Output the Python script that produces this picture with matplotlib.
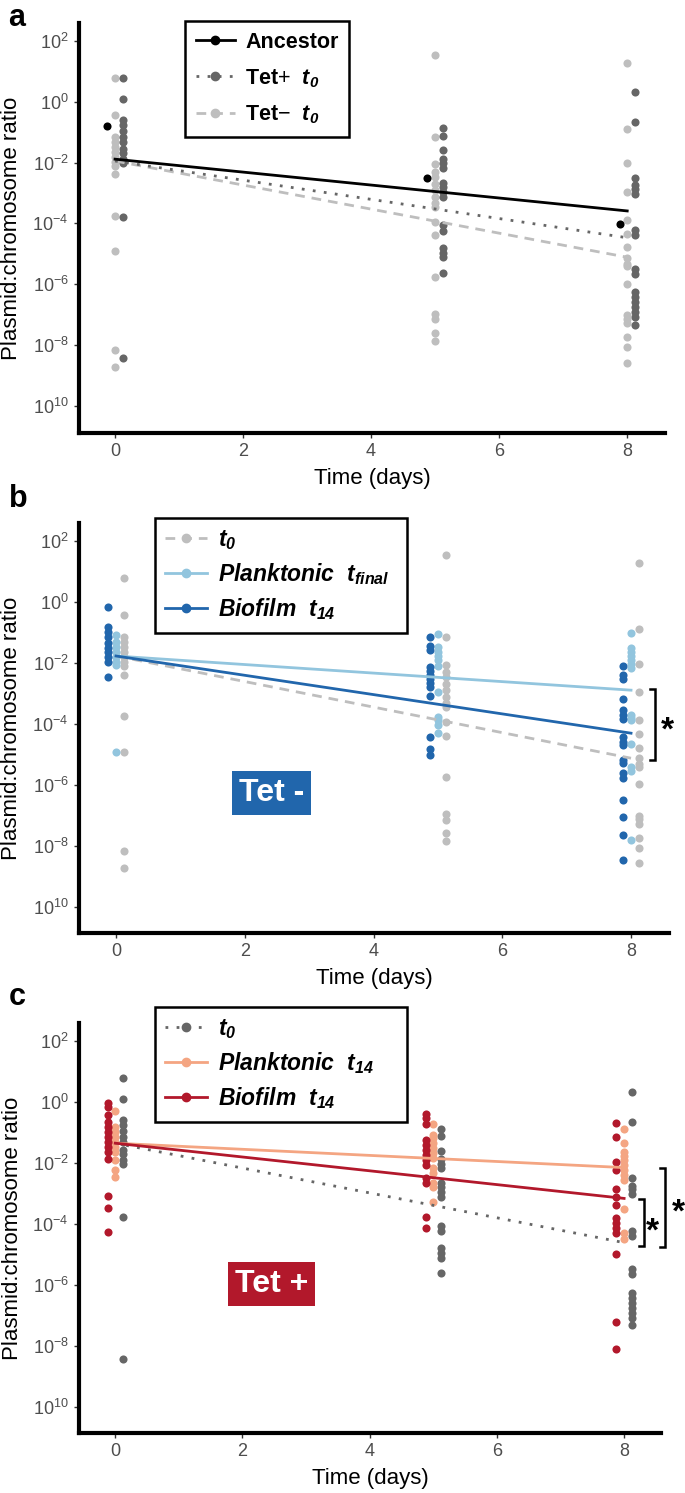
import numpy as np
import matplotlib
matplotlib.use('Agg')
import matplotlib.pyplot as plt
from matplotlib.lines import Line2D
from matplotlib.ticker import NullLocator

plt.rcParams['font.family'] = ['Liberation Sans', 'DejaVu Sans']
plt.rcParams['mathtext.fontset'] = 'custom'
plt.rcParams['mathtext.rm'] = 'Liberation Sans'
plt.rcParams['mathtext.it'] = 'Liberation Sans:italic'
plt.rcParams['mathtext.bf'] = 'Liberation Sans:bold'
plt.rcParams['mathtext.bfit'] = 'Liberation Sans:italic:bold'

# ---- data (log10 plasmid:chromosome ratio) ----
days = [0, 5, 8]
fit_days = [0, 8]

# Tet- t0 (light grey)
tetm_d0 = [0.78, -0.44, -1.16, -1.32, -1.49, -1.65, -1.82, -1.98, -2.12, -2.39, -3.76, -4.92, -8.16, -8.72]
tetm_d5 = [1.53, -1.16, -2.06, -2.31, -2.47, -2.69, -2.91, -3.13, -3.33, -3.46, -3.95, -4.39, -5.76,
           -6.97, -7.15, -7.59, -7.85]
tetm_d8 = [1.28, -0.91, -2.03, -2.97, -3.88, -4.34, -4.78, -5.13, -5.32, -5.41, -5.98, -7.02, -7.13,
           -7.28, -7.74, -8.07, -8.58]

# Tet+ t0 (dark grey)
tetp_d0 = [0.78, 0.08, -0.59, -0.77, -0.96, -1.16, -1.32, -1.57, -1.70, -1.90, -2.03, -3.79, -8.42]
tetp_d5 = [-0.88, -1.13, -1.60, -1.89, -2.03, -2.17, -2.66, -2.80, -2.97, -3.13, -4.06, -4.25, -4.81,
           -4.96, -5.11, -5.62]
tetp_d8 = [0.32, -0.66, -2.51, -2.75, -2.86, -3.02, -4.23, -4.39, -5.49, -5.65, -6.26, -6.42, -6.59,
           -6.75, -6.91, -7.08, -7.32]

# ancestor, one value per day
ancestor = [-0.80, -2.51, -4.03]

# Tet- evolved
bio_m_d0 = [-0.16, -0.82, -0.98, -1.15, -1.36, -1.53, -1.64, -1.80, -1.97, -2.46]
bio_m_d5 = [-1.15, -1.45, -1.58, -2.13, -2.26, -2.40, -2.54, -2.68, -2.81, -3.08, -4.43, -4.84, -5.03]
bio_m_d8 = [-2.10, -2.40, -2.54, -3.19, -3.55, -3.71, -3.86, -4.43, -4.59, -4.70, -5.19, -5.30, -5.63,
            -5.79, -6.50, -7.05, -7.65, -8.47]
plk_m_d0 = [-1.09, -1.31, -1.48, -1.64, -1.80, -1.97, -2.08, -4.92]
plk_m_d5 = [-1.07, -1.48, -1.64, -1.78, -1.91, -2.10, -2.95, -3.79, -3.88, -4.04, -4.31]
plk_m_d8 = [-1.04, -1.53, -1.64, -1.78, -1.91, -2.04, -2.18, -3.71, -3.82, -3.88, -4.67, -5.43, -5.54, -7.81]

# Tet+ evolved
bio_p_d0 = [-0.03, -0.18, -0.44, -0.66, -0.82, -0.98, -1.15, -1.31, -1.48, -1.64, -1.88, -3.09, -3.50, -4.26]
bio_p_d5 = [-0.40, -0.55, -0.73, -1.26, -1.42, -1.58, -1.75, -1.91, -2.08, -2.51, -2.68, -3.77, -4.13]
bio_p_d8 = [-0.69, -1.15, -1.97, -2.24, -2.87, -3.13, -3.39, -3.82, -3.99, -4.15, -4.31, -4.99, -7.21, -8.11]
plk_p_d0 = [-0.30, -0.82, -0.98, -1.15, -1.31, -1.48, -1.64, -1.91, -2.24, -2.46]
plk_p_d5 = [-0.73, -1.09, -1.20, -1.36, -1.53, -1.69, -1.86, -2.18, -2.35, -2.66, -2.81, -3.28]
plk_p_d8 = [-0.90, -1.36, -1.64, -1.78, -1.91, -2.08, -2.24, -2.40, -2.57, -3.53, -4.31, -4.51]

# fitted lines, log10 value at day 0 and day 8
fit_a_anc = [-1.89, -3.59]
fit_a_tetp = [-1.95, -4.47]
fit_a_tetm = [-1.95, -5.11]
fit_b_plk = [-1.78, -2.90]
fit_b_bio = [-1.78, -4.31]
fit_b_t0 = [-1.78, -5.13]
fit_c_plk = [-1.36, -2.16]
fit_c_bio = [-1.36, -3.17]
fit_c_t0 = [-1.36, -4.62]

# significance brackets (log10 lower/upper)
sig_b = [-2.86, -5.19]
sig_c_inner = [-3.20, -4.72]
sig_c_outer = [-2.18, -4.75]

ytick_exp = [2, 0, -2, -4, -6, -8, -10]
ytick_labels = [r'$10^{2}$', r'$10^{0}$', r'$10^{-2}$', r'$10^{-4}$', r'$10^{-6}$', r'$10^{-8}$', r'$10^{10}$']
xticks = [0, 2, 4, 6, 8]

# ---- colours ----
c_anc = 'black'
c_tetp = '#666666'
c_tetm = '#BEBEBE'
c_plk_m = '#92C5DE'
c_bio_m = '#2166AC'
c_plk_p = '#F4A582'
c_bio_p = '#B2182B'
dashed = (0, (3.5, 2.5))
dotted = (0, (1, 3))

W, H = 685, 1493
fig = plt.figure(figsize=(W / 100, H / 100), dpi=100)


def make_axes(left, right, top, bottom, xlim, ylim):
    ax = fig.add_axes([left / W, 1 - bottom / H, (right - left) / W, (bottom - top) / H])
    ax.set_yscale('log')
    ax.set_xlim(*xlim)
    ax.set_ylim(10.0 ** ylim[0], 10.0 ** ylim[1])
    for s in ['top', 'right']:
        ax.spines[s].set_visible(False)
    for s in ['left', 'bottom']:
        ax.spines[s].set_linewidth(3.0)
        ax.spines[s].set_capstyle('projecting')
    ax.set_yticks([10.0 ** e for e in ytick_exp])
    ax.set_yticklabels(ytick_labels)
    ax.yaxis.set_minor_locator(NullLocator())
    ax.set_xticks(xticks)
    ax.tick_params(axis='both', colors='#333333', labelcolor='#4D4D4D', labelsize=13,
                   length=3.5, width=1.0, pad=4)
    ax.set_xlabel('Time (days)', fontsize=16)
    ax.set_ylabel('Plasmid:chromosome ratio', fontsize=16)
    ax.xaxis.set_label_coords(0.5, -0.085)
    ax.yaxis.set_label_coords(-0.097, 0.5)
    return ax


def dots(ax, groups, offset, color):
    for d, vals in zip(days, groups):
        ax.scatter(np.full(len(vals), d + offset), 10.0 ** np.array(vals), s=34,
                   color=color, linewidths=0, zorder=2)


def fit_line(ax, fit, color, ls):
    ax.plot(fit_days, 10.0 ** np.array(fit), color=color, ls=ls, lw=2.0, zorder=3)


def handle(color, ls):
    return Line2D([0], [0], color=color, ls=ls, lw=2.0, marker='o', markersize=6)


def legend(ax, handles, labels, x, y, size, spacing, pad, width=None):
    kw = {}
    if width is None:
        anchor = (x / W, 1 - y / H)
    else:
        anchor = (x / W, 1 - (y + 113) / H, width / W, 113 / H)
        kw['mode'] = 'expand'
    lg = ax.legend(handles, labels, loc='upper left', bbox_to_anchor=anchor,
                   bbox_transform=fig.transFigure, fancybox=False, edgecolor='black',
                   framealpha=1, borderaxespad=0, prop={'weight': 'bold', 'size': size},
                   handlelength=1.8, handletextpad=0.5, labelspacing=spacing, borderpad=pad, **kw)
    lg.get_frame().set_linewidth(1.8)


def bracket(ax, x, span, stars_x, stars_y):
    lo, hi = span
    ax.plot([x - 0.07, x, x, x - 0.07], [10.0 ** lo, 10.0 ** lo, 10.0 ** hi, 10.0 ** hi],
            color='black', lw=1.8, clip_on=False, solid_joinstyle='miter')
    ax.annotate('*', xy=(stars_x, 10.0 ** stars_y), xytext=(0, -12), textcoords='offset points',
                ha='center', va='baseline', fontsize=24, fontweight='bold', annotation_clip=False)


def panel_letter(letter, top):
    fig.text(8 / W, 1 - top / H, r'$\mathbf{%s}$' % letter, fontsize=22, va='top')


# ---- panel a ----
ax = make_axes(79, 665, 23, 433, (-0.5625, 8.59), (-10.88, 2.58))
dots(ax, [tetm_d0, tetm_d5, tetm_d8], 0.0, c_tetm)
dots(ax, [tetp_d0, tetp_d5, tetp_d8], 0.12, c_tetp)
dots(ax, [[v] for v in ancestor], -0.12, c_anc)
fit_line(ax, fit_a_tetm, c_tetm, dashed)
fit_line(ax, fit_a_tetp, c_tetp, dotted)
fit_line(ax, fit_a_anc, c_anc, '-')
legend(ax, [handle(c_anc, '-'), handle(c_tetp, dotted), handle(c_tetm, dashed)],
       ['Ancestor', r'Tet$+$  $\mathbfit{t_0}$', r'Tet$-$  $\mathbfit{t_0}$'], 185, 21,
       15.5, 0.66, 0.5)
panel_letter('a', 3)

# ---- panel b ----
ax = make_axes(79, 669, 523, 933, (-0.575, 8.59), (-10.86, 2.58))
dots(ax, [tetm_d0, tetm_d5, tetm_d8], 0.12, c_tetm)
dots(ax, [plk_m_d0, plk_m_d5, plk_m_d8], 0.0, c_plk_m)
dots(ax, [bio_m_d0, bio_m_d5, bio_m_d8], -0.12, c_bio_m)
fit_line(ax, fit_b_t0, c_tetm, dashed)
fit_line(ax, fit_b_plk, c_plk_m, '-')
fit_line(ax, fit_b_bio, c_bio_m, '-')
legend(ax, [handle(c_tetm, dashed), handle(c_plk_m, '-'), handle(c_bio_m, '-')],
       [r'$\mathbfit{t_0}$', r'$\mathbfit{Planktonic\ \ t_{final}}$', r'$\mathbfit{Biofilm\ \ t_{14}}$'],
       155, 518, 16.5, 0.4, 0.45, width=252)
bracket(ax, 8.37, sig_b, 8.57, -3.98)
ax.text(0.326, 0.341, 'Tet -', transform=ax.transAxes, ha='center', va='center', color='white',
        fontsize=23, fontweight='bold',
        bbox=dict(boxstyle='square,pad=0.22', fc=c_bio_m, ec='none'))
panel_letter('b', 484)

# ---- panel c ----
ax = make_axes(79, 661, 1023, 1433, (-0.57, 8.58), (-10.86, 2.58))
dots(ax, [tetp_d0, tetp_d5, tetp_d8], 0.12, c_tetp)
dots(ax, [plk_p_d0, plk_p_d5, plk_p_d8], 0.0, c_plk_p)
dots(ax, [bio_p_d0, bio_p_d5, bio_p_d8], -0.12, c_bio_p)
fit_line(ax, fit_c_t0, c_tetp, dotted)
fit_line(ax, fit_c_plk, c_plk_p, '-')
fit_line(ax, fit_c_bio, c_bio_p, '-')
legend(ax, [handle(c_tetp, dotted), handle(c_plk_p, '-'), handle(c_bio_p, '-')],
       [r'$\mathbfit{t_0}$', r'$\mathbfit{Planktonic\ \ t_{14}}$', r'$\mathbfit{Biofilm\ \ t_{14}}$'],
       155, 1007, 16.5, 0.4, 0.45, width=252)
bracket(ax, 8.31, sig_c_inner, 8.45, -4.01)
bracket(ax, 8.64, sig_c_outer, 8.85, -3.39)
ax.text(0.331, 0.363, 'Tet +', transform=ax.transAxes, ha='center', va='center', color='white',
        fontsize=23, fontweight='bold',
        bbox=dict(boxstyle='square,pad=0.22', fc=c_bio_p, ec='none'))
panel_letter('c', 982)

fig.savefig('out.png', dpi=100)
